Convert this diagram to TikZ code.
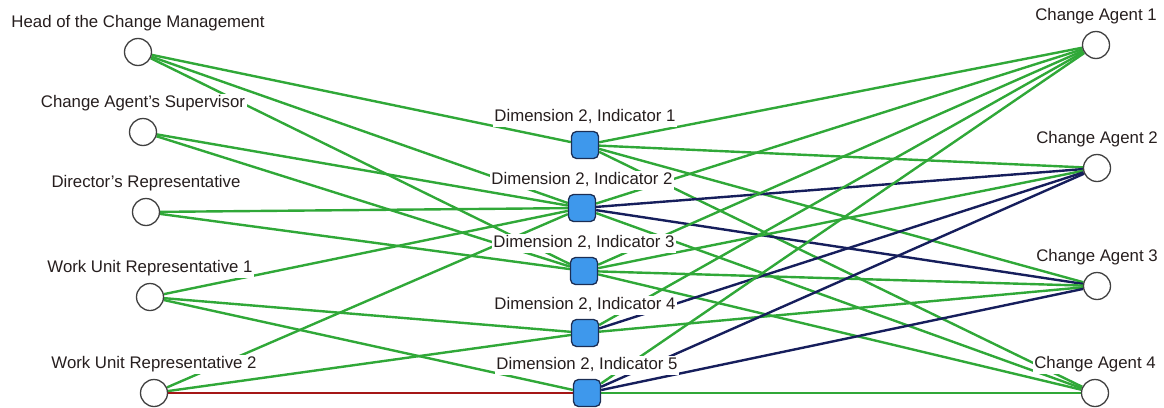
\documentclass[tikz,border=0pt]{standalone}
\usepackage{fontspec}
\setmainfont{Liberation Sans}
\usetikzlibrary{positioning}
\usetikzlibrary{backgrounds}

\definecolor{lnkgreen}{RGB}{48,168,56}
\definecolor{lnkblue}{RGB}{22,30,92}
\definecolor{lnkred}{RGB}{165,22,22}
\definecolor{boxblue}{RGB}{62,152,236}
\definecolor{boxedge}{RGB}{28,46,84}
\definecolor{lbltext}{RGB}{38,30,30}

\begin{document}
\begin{tikzpicture}[x=1pt,y=-1pt]
  \tikzset{actor/.style = {shape=circle,draw=black!75,fill=white,line width=1.3pt,minimum size=27pt,inner sep=0pt}}
  \tikzset{indicator/.style = {shape=rectangle,rounded corners=5pt,draw=boxedge,fill=boxblue,line width=1.3pt,minimum size=27pt,inner sep=0pt}}
  \tikzset{lbl/.style = {fill=white,text=lbltext,inner sep=1.5pt,text height=12pt,text depth=3.5pt,font=\fontsize{16.8}{19}\selectfont}}
  \tikzset{link/.style = {draw=lnkgreen,line width=2.4pt}}
  \tikzset{tie/.style = {draw=lnkblue,line width=2.4pt}}
  \tikzset{clash/.style = {draw=lnkred,line width=2.4pt}}

  \useasboundingbox (0,0) rectangle (1164,407);

  % stakeholders
  \node[actor] (hcm) at (138,52) {};
  \node[actor] (sup) at (143,132) {};
  \node[actor] (dir) at (146,212) {};
  \node[actor] (wu1) at (150,297) {};
  \node[actor] (wu2) at (154,393) {};

  % indicators
  \node[indicator] (d1) at (585,145) {};
  \node[indicator] (d2) at (582,208) {};
  \node[indicator] (d3) at (584,271) {};
  \node[indicator] (d4) at (585,333) {};
  \node[indicator] (d5) at (587,393) {};

  % change agents
  \node[actor] (ca1) at (1096,45) {};
  \node[actor] (ca2) at (1097,168) {};
  \node[actor] (ca3) at (1097,286) {};
  \node[actor] (ca4) at (1095,393) {};

  \node[lbl, above=5pt of hcm] (hcmL) {Head of the Change Management};
  \node[lbl, above=5pt of sup] (supL) {Change Agent's Supervisor};
  \node[lbl, above=5pt of dir] (dirL) {Director's Representative};
  \node[lbl, above=5pt of wu1] (wu1L) {Work Unit Representative 1};
  \node[lbl, above=5pt of wu2] (wu2L) {Work Unit Representative 2};

  \node[lbl, above=4pt of d1] (d1L) {Dimension 2, Indicator 1};
  \node[lbl, above=4pt of d2] (d2L) {Dimension 2, Indicator 2};
  \node[lbl, above=4pt of d3] (d3L) {Dimension 2, Indicator 3};
  \node[lbl, above=4pt of d4] (d4L) {Dimension 2, Indicator 4};
  \node[lbl, above=4pt of d5] (d5L) {Dimension 2, Indicator 5};

  \node[lbl, above=5pt of ca1] (ca1L) {Change Agent 1};
  \node[lbl, above=5pt of ca2] (ca2L) {Change Agent 2};
  \node[lbl, above=5pt of ca3] (ca3L) {Change Agent 3};
  \node[lbl, above=5pt of ca4] (ca4L) {Change Agent 4};

  \begin{pgfonlayer}{background}
  % stakeholders to indicators
  \draw[link] (hcm) to (d1);
  \draw[link] (hcm) to (d2);
  \draw[link] (hcm) to (d3);
  \draw[link] (sup) to (d2);
  \draw[link] (sup) to (d3);
  \draw[link] (dir) to (d2);
  \draw[link] (dir) to (d3);
  \draw[link] (wu1) to (d2);
  \draw[link] (wu1) to (d4);
  \draw[link] (wu1) to (d5);
  \draw[link] (wu2) to (d2);
  \draw[link] (wu2) to (d4);
  \draw[clash] (wu2) to (d5);

  % indicators to change agents
  \draw[link] (d1) to (ca1);
  \draw[link] (d1) to (ca2);
  \draw[link] (d1) to (ca3);
  \draw[link] (d1) to (ca4);
  \draw[link] (d2) to (ca1);
  \draw[tie]  (d2) to (ca2);
  \draw[tie]  (d2) to (ca3);
  \draw[link] (d2) to (ca4);
  \draw[link] (d3) to (ca1);
  \draw[link] (d3) to (ca2);
  \draw[link] (d3) to (ca3);
  \draw[link] (d3) to (ca4);
  \draw[link] (d4) to (ca1);
  \draw[tie]  (d4) to (ca2);
  \draw[link] (d4) to (ca3);
  \draw[link] (d5) to (ca1);
  \draw[tie]  (d5) to (ca2);
  \draw[tie]  (d5) to (ca3);
  \draw[link] (d5) to (ca4);
  \end{pgfonlayer}

\end{tikzpicture}
\end{document}
